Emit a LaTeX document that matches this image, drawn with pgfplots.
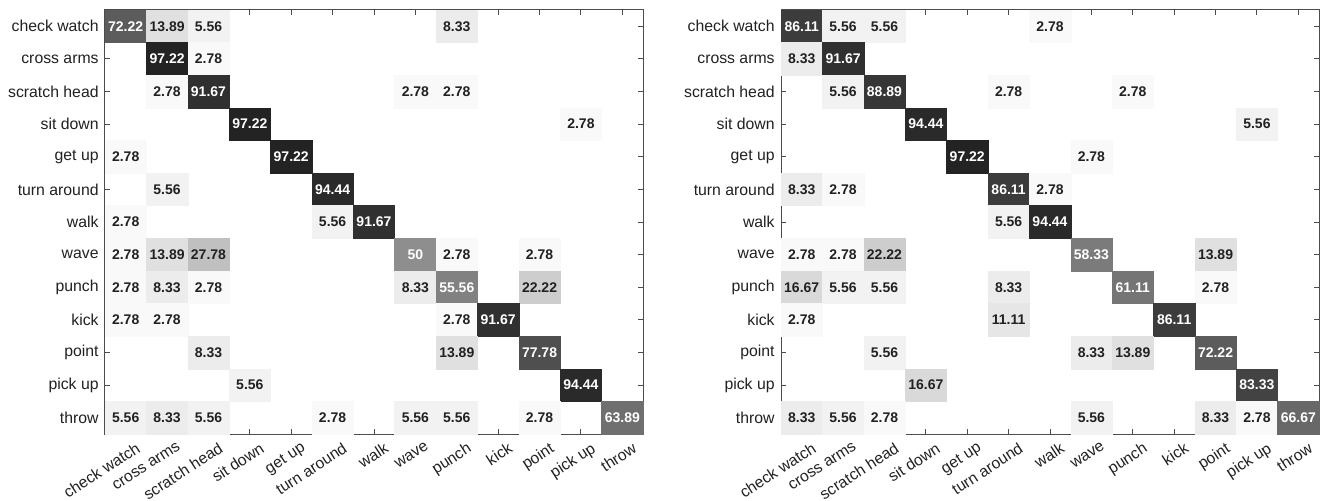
\documentclass[border=0pt]{standalone}
\usepackage{fontspec}
\setmainfont{Liberation Sans}
\usepackage{pgfplots}
\usepackage{pgfplotstable}
\pgfplotsset{compat=1.18}
\definecolor{axgray}{gray}{0.3}
\definecolor{txtdark}{gray}{0.13}
\pgfplotstableread{
x y v w
0 0 72.22 1
1 0 13.89 0
2 0 5.56 0
8 0 8.33 0
1 1 97.22 1
2 1 2.78 0
1 2 2.78 0
2 2 91.67 1
7 2 2.78 0
8 2 2.78 0
3 3 97.22 1
11 3 2.78 0
0 4 2.78 0
4 4 97.22 1
1 5 5.56 0
5 5 94.44 1
0 6 2.78 0
5 6 5.56 0
6 6 91.67 1
0 7 2.78 0
1 7 13.89 0
2 7 27.78 0
7 7 50 1
8 7 2.78 0
10 7 2.78 0
0 8 2.78 0
1 8 8.33 0
2 8 2.78 0
7 8 8.33 0
8 8 55.56 1
10 8 22.22 0
0 9 2.78 0
1 9 2.78 0
8 9 2.78 0
9 9 91.67 1
2 10 8.33 0
8 10 13.89 0
10 10 77.78 1
3 11 5.56 0
11 11 94.44 1
0 12 5.56 0
1 12 8.33 0
2 12 5.56 0
5 12 2.78 0
7 12 5.56 0
8 12 5.56 0
10 12 2.78 0
12 12 63.89 1
}\tabL
\pgfplotstableread{
x y v w
0 0 86.11 1
1 0 5.56 0
2 0 5.56 0
6 0 2.78 0
0 1 8.33 0
1 1 91.67 1
1 2 5.56 0
2 2 88.89 1
5 2 2.78 0
8 2 2.78 0
3 3 94.44 1
11 3 5.56 0
4 4 97.22 1
7 4 2.78 0
0 5 8.33 0
1 5 2.78 0
5 5 86.11 1
6 5 2.78 0
5 6 5.56 0
6 6 94.44 1
0 7 2.78 0
1 7 2.78 0
2 7 22.22 0
7 7 58.33 1
10 7 13.89 0
0 8 16.67 0
1 8 5.56 0
2 8 5.56 0
5 8 8.33 0
8 8 61.11 1
10 8 2.78 0
0 9 2.78 0
5 9 11.11 0
9 9 86.11 1
2 10 5.56 0
7 10 8.33 0
8 10 13.89 0
10 10 72.22 1
3 11 16.67 0
11 11 83.33 1
0 12 8.33 0
1 12 5.56 0
2 12 2.78 0
7 12 5.56 0
10 12 8.33 0
11 12 2.78 0
12 12 66.67 1
}\tabR
\pgfplotsset{cm/.style={
  scale only axis, width=269pt, height=212pt,
  xmin=-0.5, xmax=12.5, ymin=-0.5, ymax=12.5, y dir=reverse,
  xtick={0,...,12}, ytick={0,...,12},
  xticklabels={check watch,cross arms,scratch head,sit down,get up,turn around,walk,wave,punch,kick,point,pick up,throw},
  yticklabels={check watch,cross arms,scratch head,sit down,get up,turn around,walk,wave,punch,kick,point,pick up,throw},
  tick align=inside, major tick length=2.5pt,
  axis on top, axis line style={axgray, line width=0.5pt}, tick style={axgray, line width=0.5pt},
  colormap={bw}{gray(0cm)=(1); gray(1cm)=(0.12)},
  point meta min=0, point meta max=100,
  x tick label style={rotate=33, anchor=north east, inner sep=1pt, xshift=3pt, yshift=-4.5pt, font=\fontsize{7.9}{9}\selectfont, text=txtdark},
  y tick label style={font=\fontsize{7.9}{9}\selectfont, text=txtdark, inner sep=3pt},
}}
\pgfplotsset{
  cell/.style={scatter, only marks, mark=square*, mark size=8.155pt,
    every mark/.append style={xscale=1.2687},
    scatter/use mapped color={draw=mapped color, fill=mapped color, line width=0.2pt},
    point meta=\thisrow{v}},
  txt/.style={draw=none, nodes near coords, point meta=explicit symbolic,
    nodes near coords align={center},
    every node near coord/.append style={font=\bfseries\fontsize{7}{8}\selectfont, anchor=center, text=#1}},
}
\begin{document}
\begin{tikzpicture}
\path[use as bounding box] (-52.5pt,-245.5pt) rectangle (608pt,5pt);
\begin{axis}[cm, at={(0pt,0pt)}, anchor=north west]
\addplot[cell] table[x=x, y=y] {\tabL};
\addplot[txt=white, restrict expr to domain={\thisrow{w}}{0.5:1.5}] table[x=x, y=y, meta=v] {\tabL};
\addplot[txt=txtdark, restrict expr to domain={\thisrow{w}}{-0.5:0.5}] table[x=x, y=y, meta=v] {\tabL};
\end{axis}
\begin{axis}[cm, at={(338pt,0pt)}, anchor=north west]
\addplot[cell] table[x=x, y=y] {\tabR};
\addplot[txt=white, restrict expr to domain={\thisrow{w}}{0.5:1.5}] table[x=x, y=y, meta=v] {\tabR};
\addplot[txt=txtdark, restrict expr to domain={\thisrow{w}}{-0.5:0.5}] table[x=x, y=y, meta=v] {\tabR};
\end{axis}
\end{tikzpicture}
\end{document}
